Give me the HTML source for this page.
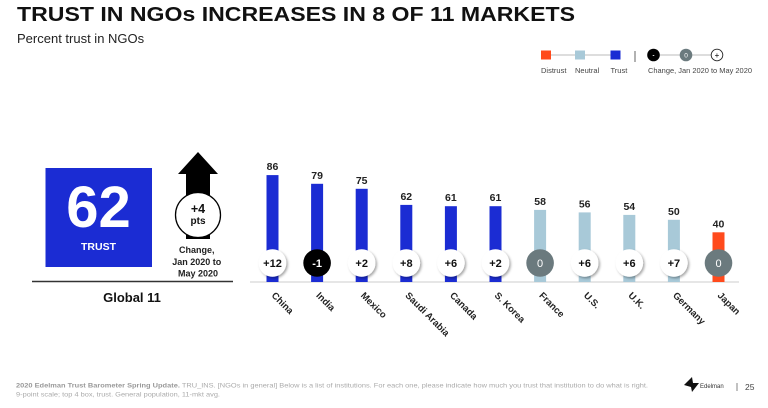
<!DOCTYPE html>
<html><head><meta charset="utf-8"><style>
html,body{margin:0;padding:0;background:#fff;}
svg{display:block;font-family:"Liberation Sans",Arial,sans-serif;}
</style></head><body>
<svg width="768" height="408" viewBox="0 0 768 408" xmlns="http://www.w3.org/2000/svg">
<defs>
<filter id="sh" x="-40%" y="-40%" width="180%" height="180%">
<feDropShadow dx="1.5" dy="1.5" stdDeviation="1.3" flood-color="#000" flood-opacity="0.35"/>
</filter>
</defs>
<rect width="768" height="408" fill="#fff"/>
<!-- Title -->
<text x="17" y="21" font-size="20.5" font-weight="bold" fill="#111" textLength="558" lengthAdjust="spacingAndGlyphs">TRUST IN NGOs INCREASES IN 8 OF 11 MARKETS</text>
<text x="17" y="43" font-size="13" fill="#222">Percent trust in NGOs</text>

<!-- Legend -->
<line x1="546" y1="55" x2="615" y2="55" stroke="#bbb" stroke-width="1"/>
<rect x="541" y="50.5" width="10" height="9" fill="#ff4a1c"/>
<rect x="575" y="50.5" width="10" height="9" fill="#a8c9d8"/>
<rect x="610.5" y="50.5" width="10" height="9" fill="#1b2cd3"/>
<text x="541" y="73" font-size="7.5" fill="#444">Distrust</text>
<text x="575" y="73" font-size="7.5" fill="#444">Neutral</text>
<text x="610.5" y="73" font-size="7.5" fill="#444">Trust</text>
<line x1="635" y1="51" x2="635" y2="62" stroke="#666" stroke-width="1"/>
<line x1="653" y1="55" x2="717" y2="55" stroke="#bbb" stroke-width="1"/>
<circle cx="653.5" cy="55" r="6.3" fill="#000"/>
<text x="653.5" y="57.5" font-size="6" fill="#fff" text-anchor="middle" font-weight="bold">-</text>
<circle cx="686" cy="55" r="6.3" fill="#6b7a7e"/>
<text x="686" y="57.3" font-size="6.5" fill="#fff" text-anchor="middle">0</text>
<circle cx="717" cy="55" r="5.8" fill="#fff" stroke="#222" stroke-width="0.9"/>
<text x="717" y="57.8" font-size="8" fill="#000" text-anchor="middle">+</text>
<text x="648" y="73" font-size="7.5" fill="#444" textLength="104" lengthAdjust="spacingAndGlyphs">Change, Jan 2020 to May 2020</text>

<!-- Global box -->
<rect x="45.5" y="168" width="106.5" height="99" fill="#1b2cd3"/>
<text x="98.5" y="227" font-size="58" font-weight="bold" fill="#fff" text-anchor="middle">62</text>
<text x="98.5" y="250" font-size="10.5" font-weight="bold" fill="#fff" text-anchor="middle">TRUST</text>
<!-- arrow -->
<polygon points="198,152 218,174 210,174 210,239 186,239 186,174 178,174" fill="#000"/>
<circle cx="198" cy="215" r="22.5" fill="#fff" stroke="#000" stroke-width="1.3"/>
<text x="198" y="213" font-size="12.5" font-weight="bold" fill="#111" text-anchor="middle">+4</text>
<text x="198" y="224" font-size="10" font-weight="bold" fill="#111" text-anchor="middle">pts</text>
<text font-size="9" font-weight="bold" fill="#222" text-anchor="middle">
<tspan x="198" y="253">Change,</tspan>
<tspan x="198" y="265">Jan 2020 to</tspan>
<tspan x="198" y="276.5">May 2020</tspan>
</text>
<line x1="32" y1="281.5" x2="233" y2="281.5" stroke="#333" stroke-width="1.6"/>
<text x="132" y="302" font-size="13" font-weight="bold" fill="#111" text-anchor="middle">Global 11</text>

<!-- Axis -->
<line x1="250" y1="282" x2="739" y2="282" stroke="#ddd" stroke-width="1.4"/>

<!-- Bars -->
<g>
<rect x="266.5" y="175.1" width="12" height="106.9" fill="#1b2cd3"/>
<rect x="311.1" y="183.8" width="12" height="98.2" fill="#1b2cd3"/>
<rect x="355.7" y="188.8" width="12" height="93.2" fill="#1b2cd3"/>
<rect x="400.3" y="204.9" width="12" height="77.1" fill="#1b2cd3"/>
<rect x="444.9" y="206.2" width="12" height="75.8" fill="#1b2cd3"/>
<rect x="489.5" y="206.2" width="12" height="75.8" fill="#1b2cd3"/>
<rect x="534.1" y="209.9" width="12" height="72.1" fill="#a8c9d8"/>
<rect x="578.7" y="212.4" width="12" height="69.6" fill="#a8c9d8"/>
<rect x="623.3" y="214.9" width="12" height="67.1" fill="#a8c9d8"/>
<rect x="667.9" y="219.8" width="12" height="62.2" fill="#a8c9d8"/>
<rect x="712.5" y="232.3" width="12" height="49.7" fill="#ff4a1c"/>
</g>
<!-- value labels -->
<g font-size="10.5" font-weight="bold" fill="#222" text-anchor="middle">
<text x="272.5" y="170">86</text>
<text x="317.1" y="179">79</text>
<text x="361.7" y="184">75</text>
<text x="406.3" y="200">62</text>
<text x="450.9" y="201">61</text>
<text x="495.5" y="201">61</text>
<text x="540.1" y="205">58</text>
<text x="584.7" y="207.5">56</text>
<text x="629.3" y="210">54</text>
<text x="673.9" y="215">50</text>
<text x="718.5" y="227.5">40</text>
</g>
<!-- change circles -->
<g filter="url(#sh)">
<circle cx="272.5" cy="263" r="13.8" fill="#fff"/>
<circle cx="361.7" cy="263" r="13.8" fill="#fff"/>
<circle cx="406.3" cy="263" r="13.8" fill="#fff"/>
<circle cx="450.9" cy="263" r="13.8" fill="#fff"/>
<circle cx="495.5" cy="263" r="13.8" fill="#fff"/>
<circle cx="584.7" cy="263" r="13.8" fill="#fff"/>
<circle cx="629.3" cy="263" r="13.8" fill="#fff"/>
<circle cx="673.9" cy="263" r="13.8" fill="#fff"/>
</g>
<circle cx="317.1" cy="263" r="13.8" fill="#000"/>
<circle cx="540.1" cy="263" r="13.8" fill="#6b7a7e"/>
<circle cx="718.5" cy="263" r="13.8" fill="#6b7a7e"/>
<g font-size="11" font-weight="bold" text-anchor="middle" fill="#111">
<text x="272.5" y="267">+12</text>
<text x="317.1" y="267" fill="#fff">-1</text>
<text x="361.7" y="267">+2</text>
<text x="406.3" y="267">+8</text>
<text x="450.9" y="267">+6</text>
<text x="495.5" y="267">+2</text>
<text x="540.1" y="267" fill="#fff" font-weight="normal">0</text>
<text x="584.7" y="267">+6</text>
<text x="629.3" y="267">+6</text>
<text x="673.9" y="267">+7</text>
<text x="718.5" y="267" fill="#fff" font-weight="normal">0</text>
</g>
<!-- country labels -->
<g font-size="9.5" font-weight="bold" fill="#222">
<text x="271" y="296" transform="rotate(45 271 296)">China</text>
<text x="315.6" y="296" transform="rotate(45 315.6 296)">India</text>
<text x="360.2" y="296" transform="rotate(45 360.2 296)">Mexico</text>
<text x="404.8" y="296" transform="rotate(45 404.8 296)">Saudi Arabia</text>
<text x="449.4" y="296" transform="rotate(45 449.4 296)">Canada</text>
<text x="494" y="296" transform="rotate(45 494 296)">S. Korea</text>
<text x="538.6" y="296" transform="rotate(45 538.6 296)">France</text>
<text x="583.2" y="296" transform="rotate(45 583.2 296)">U.S.</text>
<text x="627.8" y="296" transform="rotate(45 627.8 296)">U.K.</text>
<text x="672.4" y="296" transform="rotate(45 672.4 296)">Germany</text>
<text x="717" y="296" transform="rotate(45 717 296)">Japan</text>
</g>

<!-- Footer -->
<text x="16" y="387.5" font-size="6.8" fill="#aaa" textLength="632" lengthAdjust="spacingAndGlyphs"><tspan font-weight="bold" fill="#999">2020 Edelman Trust Barometer Spring Update.</tspan> TRU_INS. [NGOs in general] Below is a list of institutions. For each one, please indicate how much you trust that institution to do what is right.</text>
<text x="16" y="396.5" font-size="6.8" fill="#aaa" textLength="204" lengthAdjust="spacingAndGlyphs">9-point scale; top 4 box, trust. General population, 11-mkt avg.</text>
<polygon points="684,385 692,377 693,383 699,383 692,392 691,387" fill="#111"/>
<text x="700" y="388" font-size="6" fill="#333">Edelman</text>
<line x1="737" y1="383" x2="737" y2="391" stroke="#666" stroke-width="0.8"/>
<text x="745" y="390" font-size="8.5" fill="#444">25</text>
</svg>
</body></html>
